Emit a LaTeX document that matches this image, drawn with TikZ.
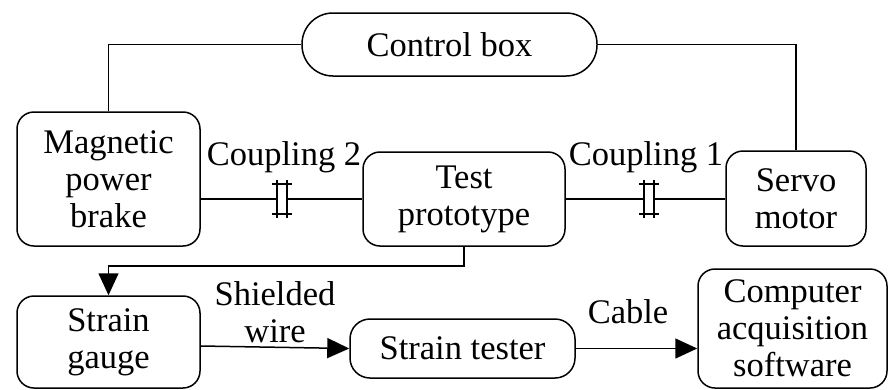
\documentclass[tikz,border=0pt]{standalone}
\usepackage{fontspec}
\setmainfont{Liberation Serif}
\usetikzlibrary{arrows.meta}
\begin{document}
\begin{tikzpicture}[x=1pt,y=-1pt,
 box/.style={draw,line width=1.5pt,rounded corners=17pt,align=center,inner sep=0pt,font=\fontsize{34.5}{37}\selectfont},
 lbl/.style={align=center,inner sep=0pt,font=\fontsize{34.5}{37}\selectfont},
 wire/.style={line width=1.5pt},
 arr/.style={wire,-{Triangle[length=22pt,width=20pt]}},
 cpl/.style={line width=1.5pt}]
\useasboundingbox (0,0) rectangle (888,389);
\node[box,rounded corners=31pt,minimum width=295pt,minimum height=63pt] (ctrl) at (449.5,44.5) {Control box};
\node[box,minimum width=183pt,minimum height=134pt] (mag) at (108.5,179) {Magnetic\\power\\brake};
\node[box,minimum width=202pt,minimum height=94pt] (test) at (464,199) {Test\\prototype};
\node[box,minimum width=140pt,minimum height=95pt] (servo) at (796,198.5) {Servo\\motor};
\node[box,minimum width=183pt,minimum height=92pt] (gauge) at (108.5,342) {Strain\\gauge};
\node[box,rounded corners=20pt,minimum width=225pt,minimum height=59pt] (tester) at (462.5,348.5) {Strain tester};
\node[box,minimum width=189pt,minimum height=119pt] (comp) at (792.5,328.5) {Computer\\acquisition\\software};
\node[lbl] (l2) at (284,157) {Coupling 2};
\node[lbl] (l1) at (646,157) {Coupling 1};
\node[lbl] (lsw) at (275,312) {Shielded\\wire};
\node[lbl] (lcab) at (628,312) {Cable};
\coordinate (c2l) at (277,199);
\coordinate (c2r) at (287,199);
\coordinate (c1l) at (644,199);
\coordinate (c1r) at (654,199);
% connectors
\draw[wire] (mag.north) |- (ctrl.west);
\draw[wire] (ctrl.east) -| (servo.north);
\draw[wire] (mag.east |- test.west) -- (c2l);
\draw[wire] (c2r) -- (test.west);
\draw[wire] (test.east) -- (c1l);
\draw[wire] (c1r) -- (servo.west |- test.east);
\draw[arr] (test.south) -- ++(0,19) -| (gauge.north);
\draw[arr] ([yshift=-4pt]gauge.east) -- (tester.west);
\draw[arr] (tester.east) -- (tester.east -| comp.west);
% coupling symbols
\foreach \c in {c2l,c2r,c1l,c1r}{
  \draw[cpl] (\c) ++(0,-19) -- ++(0,38);
}
\draw[cpl] ([xshift=-5pt,yshift=15pt]c2l) -- ([xshift=5pt,yshift=15pt]c2r);
\draw[cpl] ([xshift=-5pt,yshift=-15pt]c2l) -- ([xshift=5pt,yshift=-15pt]c2r);
\draw[cpl] ([xshift=-5pt,yshift=15pt]c1l) -- ([xshift=5pt,yshift=15pt]c1r);
\draw[cpl] ([xshift=-5pt,yshift=-15pt]c1l) -- ([xshift=5pt,yshift=-15pt]c1r);
\end{tikzpicture}
\end{document}
